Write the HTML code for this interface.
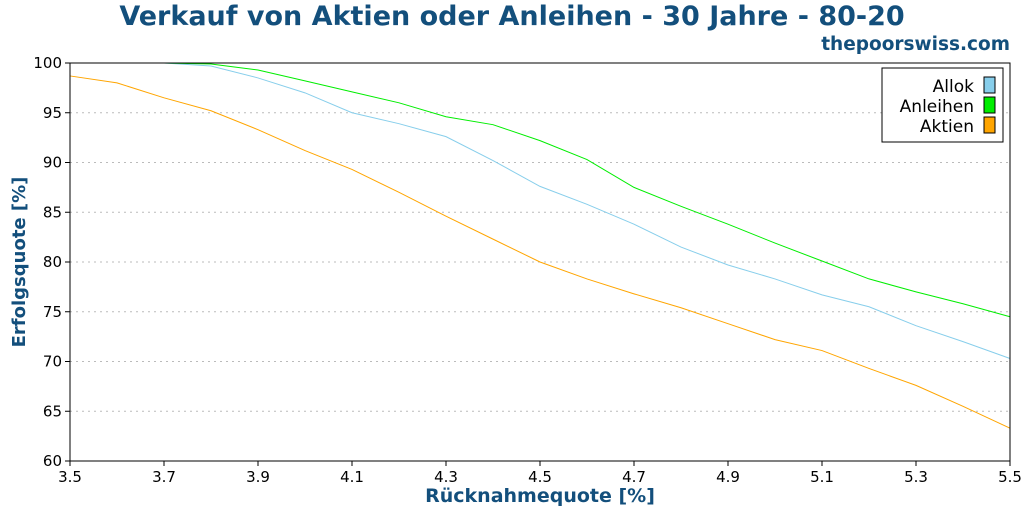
<!DOCTYPE html>
<html><head><meta charset="utf-8"><style>
body{margin:0;background:#fff;}
svg{display:block;font-family:"DejaVu Sans","Liberation Sans",sans-serif;}
</style></head><body>
<svg id="chart" width="1024" height="512" viewBox="0 0 1024 512">
<text x="512" y="25" text-anchor="middle" font-size="27" font-weight="bold" fill="#134f7c">Verkauf von Aktien oder Anleihen - 30 Jahre - 80-20</text>
<text x="1010" y="50" text-anchor="end" font-size="18.5" font-weight="bold" fill="#134f7c">thepoorswiss.com</text>
<g id="grid"></g>
<g id="series"></g>
<rect x="70" y="63" width="940" height="398" fill="none" stroke="#000" stroke-width="1"/>
<g id="axes"></g>
<text x="540" y="502" text-anchor="middle" font-size="19" font-weight="bold" fill="#134f7c">Rücknahmequote [%]</text>
<text transform="translate(25,262) rotate(-90)" text-anchor="middle" font-size="18" font-weight="bold" fill="#134f7c">Erfolgsquote [%]</text>
<g>
<rect x="882" y="68" width="121" height="74" fill="#fff" stroke="#000"/>
<text x="974" y="92" text-anchor="end" font-size="17">Allok</text>
<rect x="984" y="77" width="11" height="16" fill="#87ceeb" stroke="#000"/>
<text x="974" y="112" text-anchor="end" font-size="17">Anleihen</text>
<rect x="984" y="97" width="11" height="16" fill="#00ee00" stroke="#000"/>
<text x="974" y="132" text-anchor="end" font-size="17">Aktien</text>
<rect x="984" y="117" width="11" height="16" fill="#ffa500" stroke="#000"/>
</g>
</svg>
<script>
const xValues=[3.5,3.6,3.7,3.8,3.9,4.0,4.1,4.2,4.3,4.4,4.5,4.6,4.7,4.8,4.9,5.0,5.1,5.2,5.3,5.4,5.5];
const allok=[100,100,100,99.7,98.5,97,95,93.9,92.6,90.2,87.6,85.8,83.8,81.5,79.7,78.3,76.7,75.5,73.6,72,70.3];
const anleihen=[100,100,100,99.9,99.3,98.2,97.1,96,94.6,93.8,92.2,90.3,87.5,85.6,83.8,81.9,80.1,78.3,77,75.8,74.5];
const aktien=[98.7,98,96.5,95.2,93.3,91.2,89.3,87,84.6,82.3,80,78.3,76.8,75.4,73.8,72.2,71.1,69.3,67.6,65.5,63.3];
const xTicks=["3.5","3.7","3.9","4.1","4.3","4.5","4.7","4.9","5.1","5.3","5.5"];
const yTicks=[60,65,70,75,80,85,90,95,100];
const NS="http://www.w3.org/2000/svg";
const X=v=>70+(v-3.5)/2*940;
const Y=v=>461-(v-60)/40*398;
function mk(t,a,p){const e=document.createElementNS(NS,t);for(const k in a)e.setAttribute(k,a[k]);p.appendChild(e);return e;}
const grid=document.getElementById('grid'),axes=document.getElementById('axes'),ser=document.getElementById('series');
yTicks.forEach(v=>{
 const y=Y(v);
 if(v>60&&v<100){const l=mk('line',{x1:70,x2:1010,y1:y,y2:y,stroke:'#bbb','stroke-dasharray':'2,4','stroke-width':1},grid);
 
 }
 const t=mk('line',{x1:65,x2:70,y1:y,y2:y,stroke:'#000'},axes);
 
 
 const tx=mk('text',{x:62,y:y+5,'text-anchor':'end','font-size':15},axes);tx.textContent=v;
 
 
});
xTicks.forEach(s=>{
 const x=X(parseFloat(s));
 const t=mk('line',{x1:x,x2:x,y1:461,y2:466,stroke:'#000'},axes);
 
 
 const tx=mk('text',{x:x,y:482,'text-anchor':'middle','font-size':15},axes);tx.textContent=s;
 
 
});
[[allok,'#87ceeb','line-allok'],[anleihen,'#00ee00','line-anleihen'],[aktien,'#ffa500','line-aktien']].forEach(([d,c,n])=>{
 const p=mk('polyline',{points:d.map((v,i)=>X(xValues[i])+','+Y(v)).join(' '),fill:'none',stroke:c,'stroke-width':1},ser);
 
 
});
</script>
</body></html>
